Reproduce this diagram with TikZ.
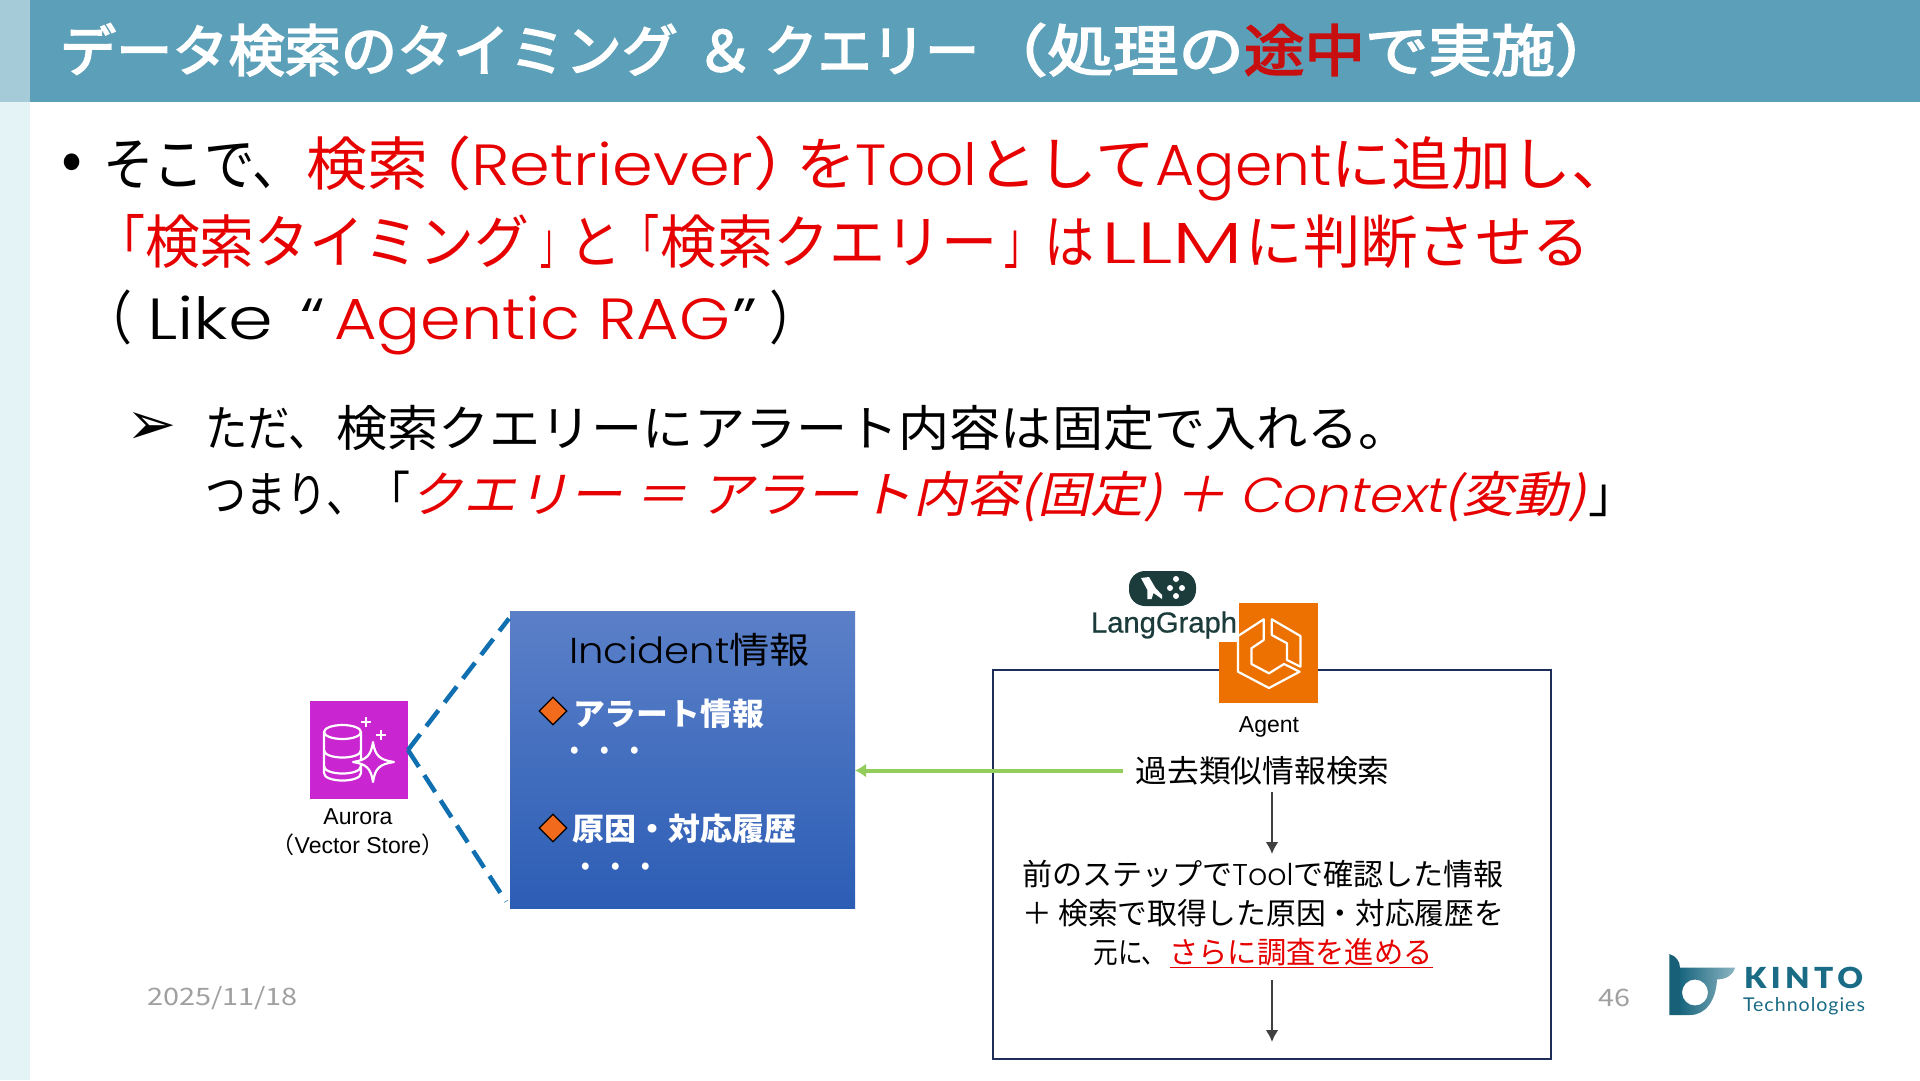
\documentclass[tikz,border=0pt]{standalone}
\usepackage{graphicx}
\usepackage{fontspec}
\usetikzlibrary{arrows.meta,shapes.geometric}
\setmainfont{Noto Sans CJK JP}
\newfontfamily\jpi[FakeSlant=0.2]{Noto Sans CJK JP}
\newfontfamily\jpt[FakeBold=3]{Noto Sans CJK JP}
\newfontfamily\lat{Liberation Sans}
\newfontfamily\latb[FakeBold=0.6]{Liberation Sans}
\newfontfamily\pp{Poppins Light}
\newfontfamily\ppi[FakeSlant=0.2]{Poppins Light}
\definecolor{band}{HTML}{5B9FB8}
\definecolor{stripA}{HTML}{A5CBD8}
\definecolor{stripB}{HTML}{E3F3F6}
\definecolor{redtxt}{HTML}{E60000}
\definecolor{titlered}{HTML}{C80F0F}
\definecolor{dashblue}{HTML}{0F6FB0}
\definecolor{auroracol}{HTML}{C925D1}
\definecolor{agentcol}{HTML}{ED7100}
\definecolor{lgcol}{HTML}{1C3C3C}
\definecolor{framecol}{HTML}{1F2D5A}
\definecolor{greenline}{HTML}{92CC5A}
\definecolor{darkline}{HTML}{404040}
\definecolor{graytxt}{HTML}{A0A0A0}
\definecolor{kinto}{HTML}{1A6B85}
\definecolor{boxtop}{HTML}{5B80C8}
\definecolor{boxbot}{HTML}{2C5DB5}
\definecolor{markcol}{HTML}{F26A1B}
\newcommand{\fs}[1]{\fontsize{#1}{#1}\selectfont}
\newcommand{\lfit}[2]{\resizebox{#1pt}{\height}{#2}}
\newcommand{\rd}[1]{{\color{redtxt}#1}}
\newcommand{\ltn}[1]{{\pp #1}}
\newcommand{\gap}[1]{\hspace{#1pt}}
\tikzset{
  txt/.style={inner sep=0pt,outer sep=0pt,anchor=west},
  ctr/.style={inner sep=0pt,outer sep=0pt,anchor=center},
  iconline/.style={draw=white,line width=2.2pt,line join=round},
  dashlink/.style={draw=dashblue,line width=4.5pt,dash pattern=on 20pt off 10pt},
  flowarrow/.style={draw=darkline,line width=2.5pt,-{Latex[length=12pt,width=13pt]}},
  greenarrow/.style={draw=greenline,line width=4pt,-{Latex[length=11pt,width=14pt]}},
  orangemark/.style={diamond,draw=black,line width=1.2pt,fill=markcol,minimum width=28pt,minimum height=28pt,inner sep=0pt},
}
\begin{document}
\begin{tikzpicture}[x=1pt,y=-1pt]
\useasboundingbox (0,0) rectangle (1920,1080);
\fill[white] (0,0) rectangle (1920,1080);
\fill[stripB] (0,102) rectangle (30,1080);
\fill[stripA] (0,0) rectangle (30,102);
\fill[band] (30,0) rectangle (1920,102);
% title
\node[txt,text=white] (title) at (60,50) {\fs{56}\jpt\lfit{618}{データ検索のタイミング}\gap{18}\lfit{58}{＆}\gap{10}\lfit{215}{クエリー}\gap{3}\lfit{262}{（処理の}\lfit{121}{{\color{titlered}途中}}\lfit{190}{で実施}\lfit{62}{）}};
% body
\node[ctr] (bullet) at (72,167) {\fs{62}•};
\node[txt] (l1) at (103,168) {\fs{58}\lfit{200}{そこで、}\gap{3}\lfit{122}{\rd{検索}}\gap{-22}\lfit{413}{\rd{（\ltn{Retriever}）}}\gap{-23}\lfit{835}{\rd{を\ltn{Tool}として\ltn{Agent}に追加し、}}};
\node[txt] (l2) at (95,242) {\fs{58}\color{redtxt}\lfit{50}{「}\lfit{384}{検索タイミング}\gap{12}\lfit{29}{」}\lfit{52}{と}\lfit{38}{「}\gap{1}\lfit{337}{検索クエリー}\gap{7}\lfit{35}{」}\gap{5}\lfit{50}{は}\gap{7}\lfit{141}{\ltn{LLM}}\gap{3}\lfit{344}{に判断させる}};
\node[txt] (l3) at (82,322) {\fs{58}\lfit{50}{（}\gap{15}\lfit{126}{\ltn{Like}}\gap{27}\lfit{25}{\ltn{“}}\gap{9}\lfit{396}{\rd{\ltn{Agentic RAG}}}\gap{2}\lfit{25}{\ltn{”}}\gap{12}\lfit{50}{）}};
\node[ctr] (arrowmark) at (152,428) {\fs{60}\fontspec{DejaVu Sans}➢};
\node[txt] (l4) at (205,428) {\fs{49}\lfit{126}{ただ、}\gap{5}\lfit{1074}{検索クエリーにアラート内容は固定で入れる。}};
\node[txt] (l5) at (205,497) {\fs{49}\lfit{162}{つまり、}\lfit{43}{「}\lfit{1176}{{\jpi\color{redtxt}クエリー ＝ アラート内容(固定) ＋ {\ppi Context}(変動)}}\gap{2}\lfit{50}{」}};
% aurora icon
\node[draw=none,fill=auroracol,minimum width=98pt,minimum height=98pt,inner sep=0pt,outer sep=0pt] (aurora) at (359,750) {};
\draw[iconline] (342.5,732) ellipse [x radius=18.5,y radius=7];
\draw[iconline] (324,732) -- (324,773) .. controls (324,783) and (361,783) .. (361,773) -- (361,732);
\draw[iconline] (324,750) .. controls (324,760) and (361,760) .. (361,750);
\draw[iconline] (324,766) .. controls (324,776) and (361,776) .. (361,766);
\draw[iconline,fill=auroracol] (373,742) .. controls (375,756) and (380,760) .. (394,762) .. controls (380,764) and (375,768) .. (373,782) .. controls (371,768) and (366,764) .. (353,762) .. controls (366,760) and (371,756) .. (373,742) -- cycle;
\draw[iconline] (361,722) -- (371,722) (366,717) -- (366,727);
\draw[iconline] (375.6,735) -- (385.6,735) (380.6,730) -- (380.6,740);
\node[ctr] (aurlabel) at (358,817) {\fs{23}\lat Aurora};
\node[ctr] (vslabel) at (358,845) {\fs{23}\lat {\normalfont （}Vector Store{\normalfont ）}};
% incident box
\node[inner sep=0pt,outer sep=0pt,minimum width=345pt,minimum height=297pt,top color=boxtop,bottom color=boxbot] (box) at (682.5,760) {};
\draw[dashlink] (aurora.east) -- ([xshift=-1pt,yshift=-7pt]box.north west);
\draw[dashlink] (aurora.east) -- ([xshift=-4pt,yshift=7pt]box.south west);
\node[txt] (inctitle) at (569,650) {\lfit{241}{\fs{36}\ltn{Incident}情報}};
\node[orangemark] (d1) at (553,711) {};
\node[txt,text=white] (alert) at (573,714) {\lfit{191}{\fs{31}\bfseries アラート情報}};
\node[ctr,text=white] (dots1) at (605,754) {\lfit{85}{\fs{26}\bfseries ・ ・ ・}};
\node[orangemark] (d2) at (553,828) {};
\node[txt,text=white] (cause) at (572,829) {\lfit{224}{\fs{31}\bfseries 原因・対応履歴}};
\node[ctr,text=white] (dots2) at (616,870) {\lfit{85}{\fs{26}\bfseries ・ ・ ・}};
% agent frame
\draw[framecol,line width=2.5pt] (993,670) rectangle (1551,1059);
% agent icon
\node[inner sep=0pt,outer sep=0pt,fill=agentcol,minimum width=99pt,minimum height=100pt] (agent) at (1268.5,653) {};
\fill[white] (1210,600) rectangle (1239,642);
\draw[iconline] (1263.7,619.3) -- (1238,636) -- (1238,671.7) -- (1269,688) -- (1299.6,671.7) -- (1284,664) -- (1269,673.3) -- (1251.4,664) -- (1251.4,648.3) -- (1263.7,640) -- cycle;
\draw[iconline] (1271.8,619.3) -- (1300.4,636) -- (1300.4,666.7) -- (1287,660) -- (1287,643.3) -- (1271.8,635) -- cycle;
\node[ctr] (agentlabel) at (1269,727) {\fs{23}\lat Agent};
% langgraph
\node[fill=lgcol,rounded corners=16pt,minimum width=67pt,minimum height=35pt,inner sep=0pt,outer sep=0pt] (pill) at (1162.5,588.5) {};
\fill[white] (1141,578) -- (1149,577) -- (1155.5,588) -- (1162,595) -- (1162,599) -- (1153.5,593) -- (1151.5,599) -- (1147.4,599) -- (1147.4,590) -- cycle;
\fill[white] (1176,579) circle (3) (1170,588) circle (3) (1182,588) circle (3) (1176,596) circle (3);
\node[txt,text=lgcol] (lglabel) at (1091,625) {\lfit{146}{\fs{29}\latb LangGraph}};
% agent content
\node[ctr,minimum height=43pt] (search) at (1256,770.5) {\gap{13}\raisebox{-2.5pt}{\lfit{254}{\fs{31}過去類似情報検索}}};
\draw[greenarrow] (search.west) -- (box.east |- search.west);
\node[ctr,minimum height=40pt] (detaila) at (1263,874) {\lfit{482}{\fs{30}前のステップで\ltn{Tool}で確認した情報}};
\node[ctr] (detailb) at (1263,913) {\lfit{482}{\fs{30}＋ 検索で取得した原因・対応履歴を}};
\node[ctr,minimum height=54pt] (detailc) at (1263,953) {\fs{30}\lfit{73}{元に、}\gap{3}\lfit{263}{{\color{redtxt}\underline{さらに調査を進める}}}};
\coordinate (axis) at (1272,0);
\coordinate (flowend) at (1272,1042);
\draw[flowarrow] (search.south -| axis) -- (axis |- detaila.north);
\draw[flowarrow] (detailc.south -| axis) -- (flowend);
% footer
\node[txt,text=graytxt] (date) at (147,998) {\lfit{151}{\fs{24}2025/11/18}};
\node[txt,text=graytxt] (page) at (1598,998) {\lfit{32}{\fs{24}46}};
% kinto logo
\shade[left color=kinto!95!black,right color=kinto!50!white,even odd rule]
 (1680,967.7) -- (1735,967.7) .. controls (1733,975) and (1727,979) .. (1717,979.5)
 .. controls (1716,1000) and (1706,1015) .. (1690,1015) -- (1680,1015) -- cycle
 (1708,992.5) arc[start angle=0,end angle=360,radius=13];
\fill[kinto!90!black] (1669.3,954) .. controls (1676,956) and (1680,961) .. (1680,968.3) -- (1680,1015) -- (1669.3,1015) -- cycle;
\node[txt,text=kinto] (kintotxt) at (1744,978) {\lfit{119}{\fs{29}\fontspec[LetterSpace=14]{Lato Black}KINTO}};
\node[txt,text=kinto] (techtxt) at (1743,1006) {\lfit{122}{\fs{19}\fontspec[LetterSpace=5]{Lato}Technologies}};
\end{tikzpicture}
\end{document}
